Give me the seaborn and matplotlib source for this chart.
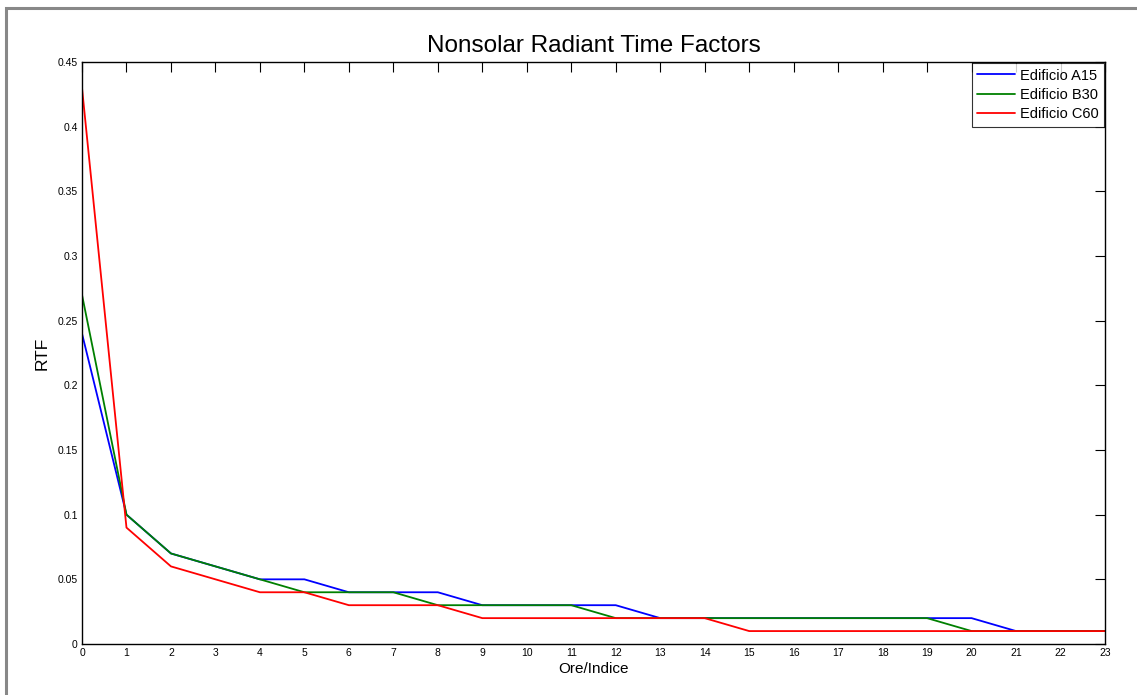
import numpy as np
import pandas as pd
import seaborn as sns
import matplotlib.pyplot as plt
from matplotlib.patches import Rectangle
from matplotlib.ticker import FormatStrFormatter

#### data ####
hours = list(range(24))
rtf_a15 = [0.24, 0.10, 0.07, 0.06, 0.05, 0.05, 0.04, 0.04, 0.04, 0.03, 0.03, 0.03,
           0.03, 0.02, 0.02, 0.02, 0.02, 0.02, 0.02, 0.02, 0.02, 0.01, 0.01, 0.01]
rtf_b30 = [0.27, 0.10, 0.07, 0.06, 0.05, 0.04, 0.04, 0.04, 0.03, 0.03, 0.03, 0.03,
           0.02, 0.02, 0.02, 0.02, 0.02, 0.02, 0.02, 0.02, 0.01, 0.01, 0.01, 0.01]
rtf_c60 = [0.43, 0.09, 0.06, 0.05, 0.04, 0.04, 0.03, 0.03, 0.03, 0.02, 0.02, 0.02,
           0.02, 0.02, 0.02, 0.01, 0.01, 0.01, 0.01, 0.01, 0.01, 0.01, 0.01, 0.01]
series_names = ["Edificio A15", "Edificio B30", "Edificio C60"]

df = pd.DataFrame({"ore": hours * 3,
                   "rtf": rtf_a15 + rtf_b30 + rtf_c60,
                   "edificio": np.repeat(series_names, len(hours))})

#### plot ####
sns.set_style("white")
plt.rcParams["font.family"] = ["Liberation Sans", "DejaVu Sans"]
plt.rcParams["text.color"] = "black"
plt.rcParams["axes.labelcolor"] = "black"

fig = plt.figure(figsize=(11.37, 6.95), dpi=100)
# grey outer frame (MATLAB figure border)
fig.patches.append(Rectangle((6 / 1137, -0.05), 1.1, 1.05 - 8 / 695,
                             transform=fig.transFigure, fill=False,
                             edgecolor="#888888", linewidth=2.2))
ax = fig.add_axes([82 / 1137, 51 / 695, 1023 / 1137, 582 / 695])

sns.lineplot(data=df, x="ore", y="rtf", hue="edificio",
             palette=["#0000ff", "#008000", "#ff0000"], linewidth=1.3, ax=ax)

ax.set_xlim(0, 23)
ax.set_ylim(0, 0.45)
ax.set_xticks(hours)
ax.set_yticks(np.arange(0, 0.451, 0.05))
ax.yaxis.set_major_formatter(FormatStrFormatter("%g"))
ax.tick_params(direction="in", length=7, width=0.8, top=True, right=True,
               labelsize=7.5, pad=3, colors="black")
for s in ax.spines.values():
    s.set_color("black")
    s.set_linewidth(1.0)

ax.set_xlabel("Ore/Indice", size=11, labelpad=3)
ax.set_ylabel("RTF", size=12.5, labelpad=6)
ax.set_title("Nonsolar Radiant Time Factors", size=17.5, pad=7)

leg = ax.legend(loc="upper right", fontsize=10.5, frameon=True, fancybox=False,
                borderaxespad=0.05, handlelength=2.6, handletextpad=0.3,
                labelspacing=0.35, borderpad=0.4)
leg.get_frame().set_edgecolor("black")
leg.get_frame().set_linewidth(0.8)
for t in leg.get_texts():
    t.set_color("black")

plt.savefig("out.png", dpi=100)
